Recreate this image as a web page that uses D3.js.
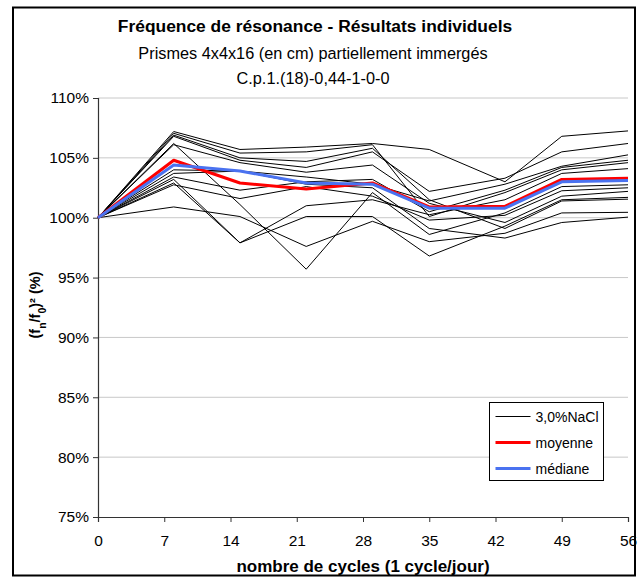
<!DOCTYPE html>
<html>
<head>
<meta charset="utf-8">
<script src="https://cdn.jsdelivr.net/npm/d3@7"></script>
<style>
  html, body { margin: 0; padding: 0; background: #fff; }
  svg { display: block; font-family: "Liberation Sans", Arial, sans-serif; }
</style>
</head>
<body>
<svg id="chart" width="642" height="577"></svg>
<script>
// Cycle number (days) at each measurement
const cycles = [0, 8, 15, 22, 29, 35, 43, 49, 56];

// (fn/f0)^2 in % for each prism, 3,0% NaCl
const prismes = [
  [100, 107.2, 105.7, 105.9, 106.2, 105.7, 103.0, 106.8, 107.25],
  [100, 107.05, 105.4, 105.5, 106.1, 100.1, 102.1, 104.0, 104.6],
  [100, 106.9, 105.0, 104.7, 105.8, 101.5, 99.1, 101.4, 101.55],
  [100, 106.8, 104.8, 104.2, 105.5, 102.2, 103.3, 105.5, 106.2],
  [100, 106.2, 101.1, 95.7, 102.1, 98.6, 100.4, 102.6, 102.75],
  [100, 106.1, 104.6, 103.8, 104.4, 101.2, 99.6, 101.8, 102.2],
  [100, 104.0, 103.9, 103.4, 102.8, 101.4, 102.8, 104.3, 105.25],
  [100, 103.7, 103.9, 102.8, 102.5, 99.1, 98.3, 99.6, 100.05],
  [100, 103.4, 102.3, 103.0, 103.2, 100.5, 102.3, 104.2, 104.8],
  [100, 103.2, 97.9, 101.0, 101.5, 100.25, 101.5, 103.7, 104.1],
  [100, 102.9, 97.9, 100.1, 100.1, 96.8, 99.3, 101.5, 101.7],
  [100, 102.75, 101.6, 102.6, 101.8, 99.8, 100.2, 102.25, 102.5],
  [100, 100.9, 100.1, 97.6, 99.7, 98.0, 98.7, 100.4, 100.45]
];

const moyenne = [100, 104.8, 102.9, 102.4, 102.9, 100.9, 100.95, 103.2, 103.3];
const mediane = [100, 104.4, 103.9, 102.9, 102.8, 100.8, 100.8, 103.0, 103.1];

const xTicks = [0, 7, 14, 21, 28, 35, 42, 49, 56];
const yTicks = [75, 80, 85, 90, 95, 100, 105, 110];

const legendItems = [
  { label: "3,0%NaCl", color: "#000000", width: 1 },
  { label: "moyenne", color: "#ff0000", width: 3 },
  { label: "médiane", color: "#4a72f0", width: 3 }
];

const svg = d3.select("#chart");

const x = d3.scaleLinear().domain([0, 56]).range([98, 628]);
const y = d3.scaleLinear().domain([75, 110]).range([517, 98]);

// outer frame
svg.append("rect")
  .attr("x", 13).attr("y", 7.5)
  .attr("width", 622).attr("height", 568)
  .attr("fill", "#fff").attr("stroke", "#000").attr("stroke-width", 2);

// titles
svg.append("text").attr("x", 315).attr("y", 32)
  .attr("text-anchor", "middle").attr("font-size", 17.4).attr("font-weight", "bold")
  .text("Fréquence de résonance - Résultats individuels");
svg.append("text").attr("x", 313).attr("y", 59)
  .attr("text-anchor", "middle").attr("font-size", 16.3)
  .text("Prismes 4x4x16 (en cm) partiellement immergés");
svg.append("text").attr("x", 313).attr("y", 84)
  .attr("text-anchor", "middle").attr("font-size", 16.3)
  .text("C.p.1.(18)-0,44-1-0-0");

// horizontal gridlines
svg.append("g")
  .selectAll("line")
  .data(yTicks.filter(v => v > 75))
  .join("line")
  .attr("x1", x(0)).attr("x2", x(56))
  .attr("y1", d => y(d)).attr("y2", d => y(d))
  .attr("stroke", "#c8c8c8").attr("stroke-width", 1);

// axes
const yAxis = d3.axisLeft(y).tickValues(yTicks).tickSize(5).tickPadding(4)
  .tickFormat(d => d + "%");
const xAxis = d3.axisBottom(x).tickValues(xTicks).tickSize(5).tickPadding(13)
  .tickFormat(d => d);

const gy = svg.append("g").attr("transform", `translate(${x(0)},0)`).call(yAxis);
const gx = svg.append("g").attr("transform", `translate(0,${y(75)})`).call(xAxis);
[gy, gx].forEach(g => {
  g.select(".domain").attr("stroke", "#333").attr("stroke-width", 1.2);
  g.selectAll(".tick line").attr("stroke", "#333");
  g.selectAll(".tick text").attr("font-size", 15.5).attr("fill", "#000")
    .attr("font-family", "Liberation Sans, Arial, sans-serif");
});

// axis titles
svg.append("text").attr("x", 363).attr("y", 572)
  .attr("text-anchor", "middle").attr("font-size", 17).attr("font-weight", "bold")
  .text("nombre de cycles (1 cycle/jour)");

const yl = svg.append("text")
  .attr("transform", "translate(40,305) rotate(-90)")
  .attr("text-anchor", "middle").attr("font-size", 14.5).attr("font-weight", "bold");
yl.append("tspan").text("(f");
yl.append("tspan").attr("baseline-shift", "sub").attr("font-size", 10.5).text("n");
yl.append("tspan").text("/f");
yl.append("tspan").attr("baseline-shift", "sub").attr("font-size", 10.5).text("0");
yl.append("tspan").text(")² (%)");

// series
const line = d3.line().x((d, i) => x(cycles[i])).y(d => y(d));

svg.append("g")
  .selectAll("path")
  .data(prismes)
  .join("path")
  .attr("d", line)
  .attr("fill", "none").attr("stroke", "#000").attr("stroke-width", 1)
  .attr("stroke-linejoin", "round");

svg.append("path").datum(moyenne).attr("d", line)
  .attr("fill", "none").attr("stroke", "#ff0000").attr("stroke-width", 3)
  .attr("stroke-linejoin", "round");

svg.append("path").datum(mediane).attr("d", line)
  .attr("fill", "none").attr("stroke", "#4a72f0").attr("stroke-width", 3)
  .attr("stroke-linejoin", "round");

// legend
const lg = svg.append("g").attr("transform", "translate(489.5,402.5)");
lg.append("rect").attr("width", 114).attr("height", 78)
  .attr("fill", "#fff").attr("stroke", "#000").attr("stroke-width", 1);
const li = lg.selectAll("g.item").data(legendItems).join("g")
  .attr("class", "item")
  .attr("transform", (d, i) => `translate(0,${14 + i * 26})`);
li.append("line").attr("x1", 6).attr("x2", 41)
  .attr("stroke", d => d.color).attr("stroke-width", d => d.width);
li.append("text").attr("x", 46).attr("y", 5).attr("font-size", 14)
  .text(d => d.label);
</script>
</body>
</html>
